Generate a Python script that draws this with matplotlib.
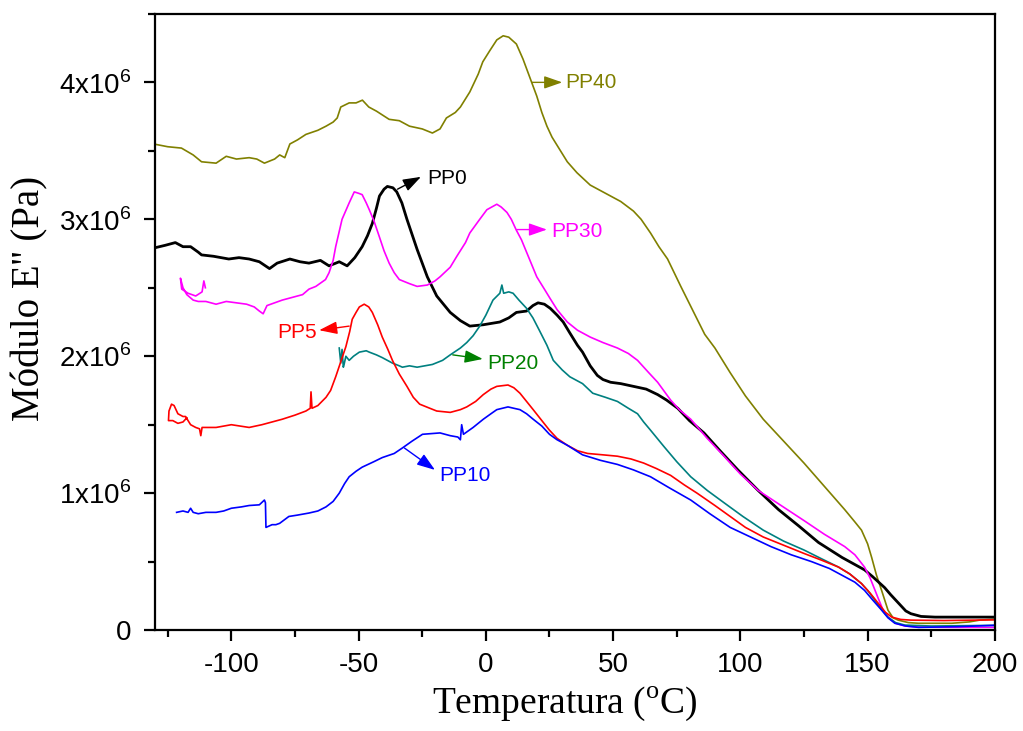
import matplotlib
matplotlib.use("Agg")
import matplotlib.pyplot as plt
import numpy as np
from matplotlib.ticker import MultipleLocator, FixedLocator, FixedFormatter

plt.rcParams['mathtext.fontset'] = 'custom'
plt.rcParams['mathtext.rm'] = 'Liberation Serif'
plt.rcParams['mathtext.sf'] = 'Liberation Sans'
plt.rcParams['axes.unicode_minus'] = False

# ---------------- data (E'' in units of 10^6 Pa) ----------------
pp40_x = [-130.5, -125, -119.6, -115, -111.7, -106, -102, -98, -93, -90, -87, -83, -81, -79, -77, -74,
          -70.7, -66, -62.8, -60, -58.4, -57, -53.7, -51, -48.5, -46, -43, -38, -34, -30, -25, -21, -18,
          -15.5, -12, -10, -6.3, -3, -1.2, 1.5, 4.3, 6.8, 9, 12, 14.6, 16, 18.6, 20, 22, 24, 26, 29, 32,
          35.8, 41, 45, 49, 53, 58, 61, 64.7, 68, 71.4, 76.6, 81.7, 86, 90, 96, 102, 109, 117, 125, 133,
          141, 145, 147.6, 150, 151.6, 153.5, 155.5, 158, 160, 162, 166, 170, 183, 190, 194, 200]
pp40_y = [3.55, 3.53, 3.52, 3.47, 3.42, 3.41, 3.46, 3.44, 3.45, 3.44, 3.41, 3.44, 3.47, 3.45, 3.55, 3.58,
          3.62, 3.65, 3.68, 3.71, 3.74, 3.82, 3.85, 3.85, 3.87, 3.82, 3.79, 3.73, 3.72, 3.68, 3.66, 3.63, 3.66,
          3.74, 3.78, 3.82, 3.93, 4.06, 4.15, 4.23, 4.31, 4.34, 4.33, 4.28, 4.17, 4.10, 3.97, 3.90, 3.78, 3.68,
          3.60, 3.51, 3.42, 3.34, 3.25, 3.21, 3.17, 3.13, 3.06, 3.00, 2.90, 2.80, 2.71, 2.51, 2.32, 2.16, 2.06,
          1.88, 1.71, 1.54, 1.38, 1.22, 1.05, 0.88, 0.79, 0.73, 0.63, 0.53, 0.40, 0.29, 0.146, 0.09, 0.073,
          0.055, 0.05, 0.05, 0.06, 0.073, 0.08]

pp0_x = [-130.5, -126, -122, -119, -116, -113, -111.7, -107, -104, -101, -97, -93, -89, -85, -82, -77, -73,
         -69.5, -65, -61.6, -57.6, -54.5, -51.5, -48.6, -46.5, -44.6, -43, -41.8, -40, -38.7, -36.5, -35, -33,
         -31, -29, -27, -25, -23, -19.3, -14, -10, -6.3, -1, 5.5, 9, 12, 16, 18.5, 20.5, 23, 25.3, 28, 30.4,
         33, 36, 38, 41, 43.8, 46, 49, 53, 58, 63, 67.5, 71, 75.4, 80, 85.7, 92, 99, 107, 115, 123, 130.7,
         140, 148.8, 152, 156.7, 159, 162, 165, 167, 171, 176.5, 200]
pp0_y = [2.79, 2.81, 2.83, 2.80, 2.80, 2.76, 2.74, 2.73, 2.72, 2.71, 2.72, 2.71, 2.69, 2.64, 2.68, 2.71, 2.69,
         2.68, 2.70, 2.66, 2.69, 2.66, 2.72, 2.80, 2.88, 2.97, 3.08, 3.17, 3.22, 3.24, 3.23, 3.20, 3.12,
         3.00, 2.89, 2.78, 2.68, 2.58, 2.44, 2.32, 2.26, 2.22, 2.23, 2.25, 2.28, 2.32, 2.33, 2.37, 2.39, 2.38,
         2.35, 2.30, 2.25, 2.17, 2.08, 2.03, 1.93, 1.86, 1.83, 1.81, 1.80, 1.78, 1.76, 1.72, 1.68, 1.62, 1.53,
         1.44, 1.31, 1.17, 1.02, 0.88, 0.76, 0.64, 0.53, 0.44, 0.39, 0.31, 0.26, 0.20, 0.14, 0.12, 0.10,
         0.095, 0.095]

pp30_x = [-110.2, -110.8, -111.5, -114, -117, -119.5, -120, -119, -117.5, -115, -113, -110, -106, -102, -98,
          -94, -91, -89, -87.5, -86, -83, -80, -76, -72, -69.5, -66.8, -63, -61.6, -60, -59, -57.5, -56.5,
          -53.7, -51.7, -50, -48.6, -47, -45.8, -44, -41.8, -40, -38, -36, -34, -30, -27, -23, -20, -18, -14,
          -11.4, -8, -6.3, -2.4, 0.4, 4.3, 6, 8.3, 10, 12, 14, 16, 18, 20, 23, 25.3, 28, 32, 36, 41, 46, 51.7,
          56, 59.6, 64, 67.5, 72.6, 76, 80.5, 87, 93.6, 100, 107, 116, 125, 133, 141, 145, 148.8, 151, 154,
          156, 158, 161, 164.6, 170, 185, 200]
pp30_y = [2.50, 2.55, 2.47, 2.44, 2.46, 2.49, 2.57, 2.50, 2.45, 2.41, 2.40, 2.40, 2.38, 2.40, 2.39,
          2.38, 2.36, 2.33, 2.31, 2.37, 2.39, 2.41, 2.43, 2.45, 2.49, 2.51, 2.56, 2.61, 2.70, 2.80, 2.92, 3.00,
          3.12, 3.20, 3.19, 3.18, 3.12, 3.07, 2.99, 2.87, 2.77, 2.68, 2.61, 2.56, 2.53, 2.51, 2.52, 2.55, 2.58,
          2.65, 2.73, 2.83, 2.90, 3.00, 3.07, 3.11, 3.09, 3.05, 3.00, 2.92, 2.85, 2.76, 2.67, 2.58, 2.49, 2.42,
          2.34, 2.25, 2.19, 2.14, 2.10, 2.06, 2.02, 1.97, 1.88, 1.81, 1.68, 1.61, 1.54, 1.40, 1.27, 1.14, 1.02,
          0.91, 0.80, 0.70, 0.61, 0.55, 0.46, 0.38, 0.24, 0.15, 0.095, 0.05, 0.03, 0.022, 0.02, 0.02]

pp5_x = [-117.5, -119, -121, -123, -124.7, -124.5, -123.5, -122.5, -121, -119, -118, -116, -114, -112.5, -112,
         -111.5, -109, -106, -100, -93, -88, -84, -80, -75, -70.7, -69, -68.7, -68.3, -66, -62.8, -61, -59,
         -57, -55, -53.5, -52.5, -51, -49.7, -47.8, -46, -44.6, -42.5, -40.7, -38.5, -36.7, -34, -31, -28.5,
         -26, -22, -19.3, -14, -10, -7.5, -4, -1, 2, 4.3, 8.7, 11, 13.4, 16, 18.6, 22, 25, 28, 32, 36, 40, 46,
         51.7, 57, 62, 67, 72.6, 78, 83, 90, 96, 102, 109, 117, 125, 132, 138.6, 143, 147.6, 151, 154, 157,
         159.5, 163, 167, 180, 200]
pp5_y = [1.55, 1.52, 1.51, 1.53, 1.53, 1.60, 1.65, 1.64, 1.58, 1.56, 1.56, 1.50, 1.48, 1.47, 1.42,
         1.48, 1.48, 1.48, 1.50, 1.48, 1.50, 1.52, 1.54, 1.57, 1.60, 1.62, 1.74, 1.62, 1.64, 1.70, 1.75, 1.85,
         1.96, 2.07, 2.18, 2.27, 2.32, 2.36, 2.38, 2.36, 2.32, 2.23, 2.14, 2.05, 1.97, 1.87, 1.78, 1.70,
         1.65, 1.62, 1.60, 1.59, 1.61, 1.63, 1.67, 1.72, 1.76, 1.78, 1.79, 1.77, 1.73, 1.67, 1.61, 1.53, 1.46,
         1.40, 1.35, 1.31, 1.29, 1.28, 1.27, 1.25, 1.22, 1.18, 1.13, 1.06, 1.00, 0.91, 0.83, 0.75, 0.68, 0.62,
         0.56, 0.51, 0.46, 0.41, 0.34, 0.27, 0.20, 0.13, 0.095, 0.078, 0.073, 0.07, 0.075]

pp10_x = [-121.5, -119, -117, -116, -115, -113, -110, -106, -103, -100, -96, -93, -89, -87, -86.6, -86.4,
          -84, -82.5, -81, -77.4, -74, -69.5, -66, -62.8, -60, -57.6, -55.5, -53.7, -51, -48.6, -44, -40.7,
          -36, -32.8, -29, -24.9, -18, -14, -11, -10, -9.5, -8.8, -5, -1, 2, 4.3, 8.7, 11, 13.4, 16, 18.6,
          22, 25, 28, 32, 38, 45, 51.7, 58, 64.7, 72, 80.5, 88, 96, 104, 112, 120, 128, 135, 141, 145, 148.8,
          152, 155.5, 158, 160.7, 165, 170, 185, 200]
pp10_y = [0.86, 0.87, 0.86, 0.89, 0.86, 0.85, 0.86, 0.86, 0.87, 0.89, 0.90, 0.91, 0.915, 0.95, 0.93, 0.75,
          0.77, 0.77, 0.78, 0.83, 0.84, 0.855, 0.87, 0.90, 0.94, 1.00, 1.07, 1.12, 1.16, 1.19, 1.23, 1.26,
          1.29, 1.33, 1.38, 1.43, 1.44, 1.42, 1.41, 1.39, 1.50, 1.43, 1.48, 1.54, 1.58, 1.61, 1.63, 1.62, 1.61,
          1.58, 1.54, 1.49, 1.43, 1.39, 1.35, 1.28, 1.24, 1.21, 1.17, 1.12, 1.04, 0.95, 0.85, 0.75, 0.68, 0.61,
          0.55, 0.50, 0.45, 0.39, 0.35, 0.29, 0.22, 0.146, 0.09, 0.05, 0.03, 0.02, 0.025, 0.035]

pp20_x = [-57.6, -57, -56.5, -56, -55.7, -55, -53.7, -52, -49.7, -47, -45.8, -43, -40.7, -38.7, -36.7, -34,
          -32.8, -30, -27, -24, -21, -17, -14, -10, -7.5, -5, -2.4, 0, 2.8, 5.5, 6.3, 7, 9, 10.7, 13, 16,
          18.5, 21, 24, 26.5, 30, 33, 38, 42, 47, 51.7, 56, 59.6, 62, 64.7, 70, 75, 80.5, 87, 93.6, 101, 109,
          117, 125, 132, 138.6, 143, 147.6, 150, 152.8, 155.5, 158, 161, 164.6, 175, 200]
pp20_y = [2.06, 1.95, 2.05, 1.92, 1.94, 2.00, 1.97, 2.00, 2.03, 2.04, 2.03, 2.01, 1.99, 1.97, 1.95, 1.93,
          1.92, 1.93, 1.92, 1.93, 1.94, 1.97, 2.01, 2.06, 2.10, 2.15, 2.22, 2.30, 2.41, 2.46, 2.52, 2.46, 2.47,
          2.46, 2.41, 2.35, 2.28, 2.19, 2.08, 1.97, 1.90, 1.85, 1.80, 1.73, 1.70, 1.67, 1.62, 1.58, 1.52, 1.46,
          1.34, 1.23, 1.12, 1.02, 0.93, 0.83, 0.73, 0.65, 0.585, 0.52, 0.46, 0.41, 0.34, 0.29, 0.22, 0.15,
          0.095, 0.055, 0.037, 0.03, 0.035]

series = [
    ("PP40", pp40_x, pp40_y, "#808000", 1.2),
    ("PP0", pp0_x, pp0_y, "#000000", 2.0),
    ("PP30", pp30_x, pp30_y, "#ff00ff", 1.2),
    ("PP20", pp20_x, pp20_y, "#008080", 1.2),
    ("PP5", pp5_x, pp5_y, "#ff0000", 1.2),
    ("PP10", pp10_x, pp10_y, "#0000ff", 1.2),
]

# labels: (text, tail(x,y), head(x,y), text pos(x,y), ha, color)
labels = [
    ("PP40", (18.0, 4.00), (30.0, 4.00), (31.2, 4.00), "left", "#808000"),
    ("PP0", (-34.7, 3.22), (-25.5, 3.31), (-23.0, 3.30), "left", "#000000"),
    ("PP30", (12.2, 2.925), (24.0, 2.925), (25.7, 2.91), "left", "#ff00ff"),
    ("PP5", (-53.7, 2.22), (-65.5, 2.19), (-66.3, 2.17), "right", "#ff0000"),
    ("PP20", (-13.0, 2.01), (-1.2, 1.98), (0.4, 1.95), "left", "#008000"),
    ("PP10", (-32.0, 1.33), (-20.0, 1.17), (-18.2, 1.13), "left", "#0000ff"),
]

ytick_vals = [0, 1, 2, 3, 4]
ytick_labels = ["0", "1x10$^{\\mathsf{6}}$", "2x10$^{\\mathsf{6}}$", "3x10$^{\\mathsf{6}}$", "4x10$^{\\mathsf{6}}$"]

fig = plt.figure(figsize=(10.23, 7.31), dpi=100)
ax = fig.add_axes([0.1515, 0.138, 0.821, 0.843])

for name, xs, ys, c, lw in series:
    ax.plot(xs, ys, color=c, lw=lw)

for txt, tail, head, tpos, ha, c in labels:
    ax.annotate("", xy=head, xytext=tail,
                arrowprops=dict(arrowstyle="-|>,head_length=1.0,head_width=0.35",
                                color=c, lw=1.0, mutation_scale=11, shrinkA=0, shrinkB=0))
    ax.text(tpos[0], tpos[1], txt, color=c, ha=ha, va="center",
            fontsize=15, family="Liberation Sans")

ax.set_xlim(-130, 200)
ax.set_ylim(0, 4.5)
ax.xaxis.set_major_locator(MultipleLocator(50))
ax.xaxis.set_minor_locator(MultipleLocator(25))
ax.yaxis.set_major_locator(FixedLocator(ytick_vals))
ax.yaxis.set_major_formatter(FixedFormatter(ytick_labels))
ax.yaxis.set_minor_locator(MultipleLocator(0.5))

for sp in ax.spines.values():
    sp.set_linewidth(1.6)

ax.tick_params(which="both", direction="out", top=False, right=False, width=1.6)
ax.tick_params(which="major", length=8)
ax.tick_params(which="minor", length=5)
ax.tick_params(axis="x", which="major", pad=8)
ax.tick_params(axis="y", which="major", pad=9)
for lab in ax.get_xticklabels() + ax.get_yticklabels():
    lab.set_fontfamily("Liberation Sans")
    lab.set_fontsize(20)

ax.set_xlabel("Temperatura ($^{\\mathrm{o}}$C)", family="Liberation Serif", fontsize=27)
ax.set_ylabel("Módulo E'' (Pa)", family="Liberation Serif", fontsize=28)
ax.xaxis.set_label_coords(0.488, -0.088)
ax.yaxis.set_label_coords(-0.149, 0.539)
ax.yaxis.label.set_verticalalignment("center")

fig.savefig("out.png", dpi=100)
